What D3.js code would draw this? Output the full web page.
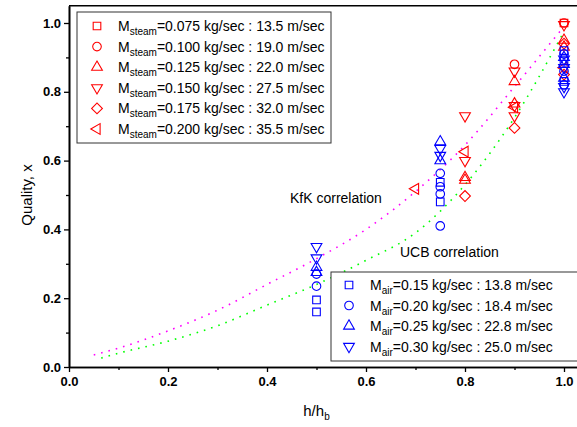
<!DOCTYPE html>
<html>
<head>
<meta charset="utf-8">
<script src="https://cdn.jsdelivr.net/npm/d3@7/dist/d3.min.js"></script>
<style>
body { margin: 0; background: #fff; }
text { font-family: Arial, "Liberation Sans", sans-serif; }
.tick text { font-weight: bold; font-size: 13px; font-family: Arial, "Liberation Sans", sans-serif; }
</style>
</head>
<body>
<svg id="chart"></svg>
<script>
// steam runs (red) : [h/hb, quality]
var steam075 = [[1.0, 1.0]];
var steam100 = [[0.9, 0.88], [1.0, 1.0]];
var steam125 = [[0.8, 0.551], [0.8, 0.543], [0.9, 0.83], [0.9, 0.765], [1.0, 0.95], [1.0, 0.93]];
var steam150 = [[0.8, 0.73], [0.8, 0.60], [0.9, 0.86], [0.9, 0.76], [0.9, 0.73], [1.0, 0.995]];
var steam175 = [[0.8, 0.497], [0.9, 0.695], [1.0, 0.94], [1.0, 0.85]];
var steam200 = [[0.7, 0.518], [0.8, 0.626], [0.9, 0.755], [1.0, 0.87]];

// air runs (blue)
var air15 = [[0.5, 0.195], [0.5, 0.16], [0.75, 0.537], [0.75, 0.48], [1.0, 0.92], [1.0, 0.89], [1.0, 0.83]];
var air20 = [[0.5, 0.27], [0.5, 0.235], [0.75, 0.563], [0.75, 0.524], [0.75, 0.503], [0.75, 0.41], [1.0, 0.91], [1.0, 0.86], [1.0, 0.82]];
var air25 = [[0.5, 0.29], [0.5, 0.275], [0.75, 0.655], [0.75, 0.60], [1.0, 0.90], [1.0, 0.88], [1.0, 0.84]];
var air30 = [[0.5, 0.35], [0.5, 0.317], [0.75, 0.635], [0.75, 0.615], [1.0, 0.895], [1.0, 0.87], [1.0, 0.815], [1.0, 0.80]];

var steamRates = ["0.075", "0.100", "0.125", "0.150", "0.175", "0.200"];
var steamVel = ["13.5", "19.0", "22.0", "27.5", "32.0", "35.5"];
var airRates = ["0.15", "0.20", "0.25", "0.30"];
var airVel = ["13.8", "18.4", "22.8", "25.0"];

// correlations
var kfkX = [0.05, 0.1, 0.2, 0.3, 0.4, 0.5, 0.6, 0.7, 0.8, 0.9, 1.0];
var kfkY = [0.035, 0.055, 0.105, 0.165, 0.24, 0.315, 0.40, 0.51, 0.645, 0.815, 0.99];
var ucbX = [0.065, 0.1, 0.2, 0.3, 0.4, 0.5, 0.6, 0.7, 0.8, 0.9, 1.0];
var ucbY = [0.026, 0.04, 0.075, 0.12, 0.18, 0.24, 0.31, 0.39, 0.53, 0.725, 0.975];

var majorTicks = [0, 0.2, 0.4, 0.6, 0.8, 1.0];
var minorTicks = [0.1, 0.3, 0.5, 0.7, 0.9];

var width = 577, height = 427;
var svg = d3.select("#chart").attr("width", width).attr("height", height);

var xScale = d3.scaleLinear().domain([0, 1.05]).range([69, 588.75]);
var yScale = d3.scaleLinear().domain([0, 1.05]).range([367, 5.8]);

// symbols: square, circle, up, down, diamond, left
var shapes = [
    {type: d3.symbolSquare, size: 58, rot: 0},
    {type: d3.symbolCircle, size: 58, rot: 0},
    {type: d3.symbolTriangle, size: 50, rot: 0},
    {type: d3.symbolTriangle, size: 50, rot: 180},
    {type: d3.symbolSquare, size: 58, rot: 45},
    {type: d3.symbolTriangle, size: 50, rot: -90}
];
var symbolPath = function(s) { return d3.symbol().type(s.type).size(s.size)(); };

// dotted correlation curves
var line = d3.line()
    .x(function(d) { return xScale(d[0]); })
    .y(function(d) { return yScale(d[1]); })
    .curve(d3.curveMonotoneX);

svg.append("path")
    .datum(kfkX.map(function(x, i) { return [x, kfkY[i]]; }))
    .attr("d", line)
    .attr("fill", "none")
    .attr("stroke", "#ff00ff")
    .attr("stroke-width", 1.6)
    .attr("stroke-dasharray", "1.6,6");

svg.append("path")
    .datum(ucbX.map(function(x, i) { return [x, ucbY[i]]; }))
    .attr("d", line)
    .attr("fill", "none")
    .attr("stroke", "#00ff00")
    .attr("stroke-width", 1.6)
    .attr("stroke-dasharray", "1.6,6");

// data markers
var drawSeries = function(data, shape, color) {
    svg.append("g").selectAll("path")
        .data(data)
        .enter()
        .append("path")
        .attr("d", symbolPath(shape))
        .attr("transform", function(d) {
            return "translate(" + xScale(d[0]) + "," + yScale(d[1]) + ") rotate(" + shape.rot + ")";
        })
        .attr("fill", "none")
        .attr("stroke", color)
        .attr("stroke-width", 1.1);
};
var steamData = [steam075, steam100, steam125, steam150, steam175, steam200];
var airData = [air15, air20, air25, air30];
steamData.forEach(function(d, i) { drawSeries(d, shapes[i], "#ff0000"); });
airData.forEach(function(d, i) { drawSeries(d, shapes[i], "#0000ff"); });

// axes (major and minor ticks in separate groups)
svg.append("g")
    .attr("transform", "translate(0," + yScale(0) + ")")
    .call(d3.axisBottom(xScale).tickValues(minorTicks).tickFormat("").tickSize(3).tickSizeOuter(0));
svg.append("g")
    .attr("transform", "translate(0," + yScale(0) + ")")
    .call(d3.axisBottom(xScale).tickValues(majorTicks).tickFormat(d3.format(".1f")).tickSize(5).tickSizeOuter(0).tickPadding(5));

svg.append("g")
    .attr("transform", "translate(" + xScale(0) + ",0)")
    .call(d3.axisLeft(yScale).tickValues(minorTicks).tickFormat("").tickSize(3).tickSizeOuter(0));
svg.append("g")
    .attr("transform", "translate(" + xScale(0) + ",0)")
    .call(d3.axisLeft(yScale).tickValues(majorTicks).tickFormat(d3.format(".1f")).tickSize(5).tickSizeOuter(0).tickPadding(3));

svg.selectAll(".domain").attr("stroke-width", 1.6);
svg.selectAll(".tick line").attr("stroke-width", 1.3);
svg.selectAll(".tick text").attr("fill", "#000");

svg.append("line")
    .attr("x1", xScale(0)).attr("x2", xScale(1.05))
    .attr("y1", yScale(1.05)).attr("y2", yScale(1.05))
    .attr("stroke", "#000").attr("stroke-width", 1.6);
svg.append("line")
    .attr("x1", xScale(1.05)).attr("x2", xScale(1.05))
    .attr("y1", yScale(1.05)).attr("y2", yScale(0))
    .attr("stroke", "#000").attr("stroke-width", 1.6);

// axis titles
svg.append("text")
    .attr("transform", "translate(27," + yScale(0.5) + ") rotate(-90)")
    .attr("text-anchor", "middle")
    .attr("dy", "0.35em")
    .style("font-size", "15px")
    .text("Quality, x");

var xt = svg.append("text")
    .attr("x", xScale(0.5))
    .attr("y", 416)
    .attr("text-anchor", "middle")
    .style("font-size", "15px");
xt.append("tspan").text("h/h");
xt.append("tspan").attr("dy", 4).style("font-size", "10px").text("b");

// correlation labels
svg.append("text").attr("x", 290).attr("y", 203).style("font-size", "14px").text("KfK correlation");
svg.append("text").attr("x", 400).attr("y", 257).style("font-size", "14px").text("UCB correlation");

// legends
var drawLegend = function(box, rates, vels, sub, color) {
    var g = svg.append("g");
    g.append("rect")
        .attr("x", box.x).attr("y", box.y)
        .attr("width", box.w).attr("height", box.h)
        .attr("fill", "#fff")
        .attr("stroke", "#333")
        .attr("stroke-width", 1);
    var rows = g.selectAll("g.entry")
        .data(rates)
        .enter()
        .append("g")
        .classed("entry", true)
        .attr("transform", function(d, i) { return "translate(0," + (box.first + i * box.step) + ")"; });
    rows.append("path")
        .attr("d", function(d, i) { return symbolPath(shapes[i]); })
        .attr("transform", function(d, i) { return "translate(" + box.mx + ",0) rotate(" + shapes[i].rot + ")"; })
        .attr("fill", "none")
        .attr("stroke", color)
        .attr("stroke-width", 1.1);
    var t = rows.append("text")
        .attr("x", box.tx)
        .attr("y", 5)
        .style("font-size", "14px");
    t.append("tspan").text("M");
    t.append("tspan").attr("dy", 4).style("font-size", "10px").text(sub);
    t.append("tspan").attr("dy", -4).text(function(d, i) { return "=" + d + " kg/sec : " + vels[i] + " m/sec"; });
};

drawLegend({x: 77, y: 12, w: 254, h: 131, first: 26, step: 20.6, mx: 97, tx: 118},
    steamRates, steamVel, "steam", "#ff0000");
drawLegend({x: 331, y: 272, w: 250, h: 89, first: 285, step: 20.5, mx: 349, tx: 370},
    airRates, airVel, "air", "#0000ff");
</script>
</body>
</html>
